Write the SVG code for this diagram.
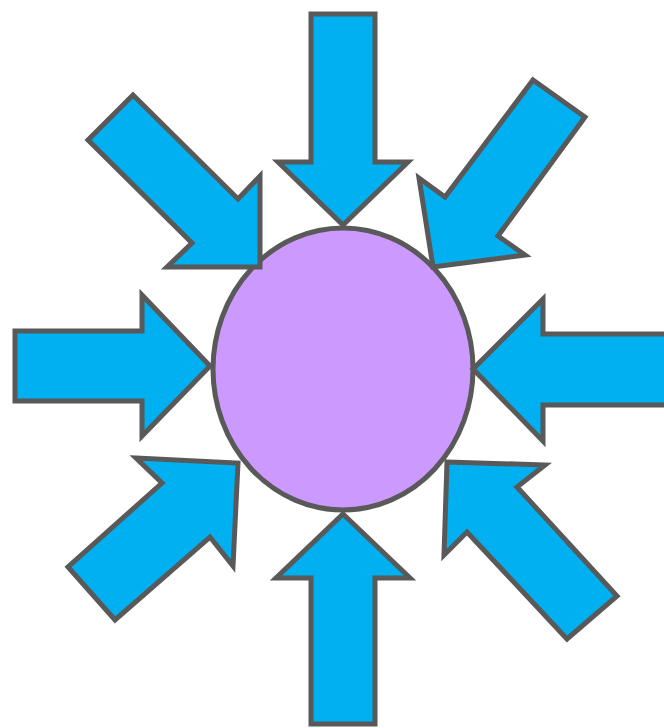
<svg xmlns="http://www.w3.org/2000/svg" width="664" height="728" viewBox="0 0 664 728">
<style>
.arrow{fill:#00B0F0;stroke:#595959;stroke-width:5;stroke-linejoin:miter}
.core{fill:#CC99FF;stroke:#595959;stroke-width:5}
</style>
<rect width="664" height="728" fill="#FFFFFF"/>
<g id="center">
<ellipse class="core" cx="343" cy="369" rx="130" ry="141"/>
</g>
<g id="arrows">
<g id="arrow-top"><polygon class="arrow" points="311,14 375,14 375,162 408,162 343,225 278,162 311,162"/></g>
<g id="arrow-bottom"><polygon class="arrow" points="343,514 410,578 375,578 375,724 311,724 311,578 276,578"/></g>
<g id="arrow-left"><polygon class="arrow" points="15,331 142,331 142,295 210,366 142,436 142,401 15,401"/></g>
<g id="arrow-right"><polygon class="arrow" points="473,369 543,299 543,334 668,334 668,405 543,405 543,441"/></g>
<g id="arrow-top-left"><polygon class="arrow" points="133,95 238,199 260,176 260,267 167,267 192,243 88,140"/></g>
<g id="arrow-top-right"><polygon class="arrow" points="533,80 585,117 498,236 525,255 433,267 419,178 445,197"/></g>
<g id="arrow-bottom-left"><polygon class="arrow" points="136,458 238,463 233,566 210,537 115,620 68,567 162,483"/></g>
<g id="arrow-bottom-right"><polygon class="arrow" points="447,462 545,465 517,487 617,596 567,639 467,532 444,555"/></g>
</g>
</svg>
